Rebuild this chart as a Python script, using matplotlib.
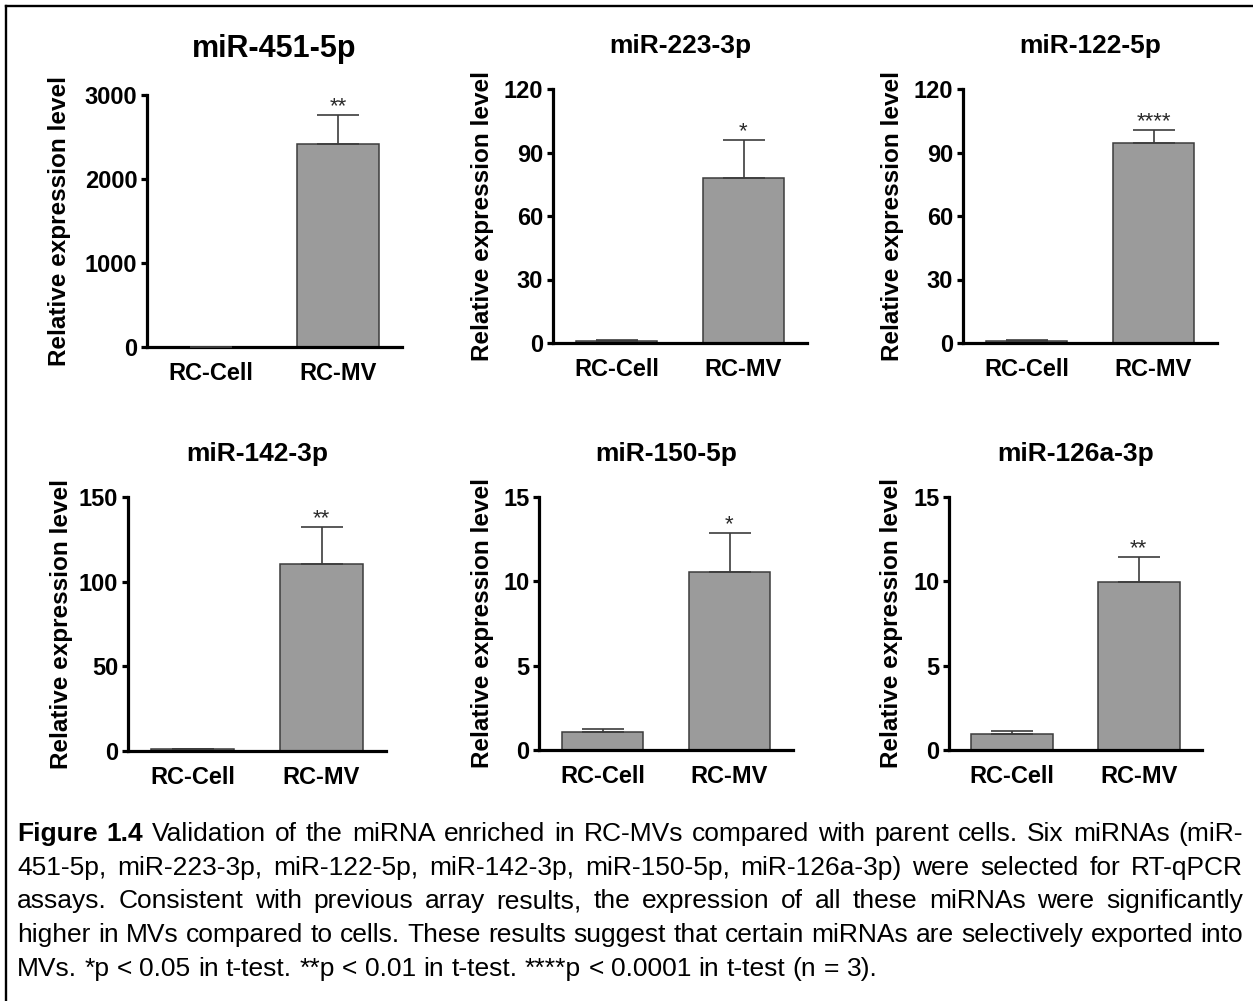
import matplotlib
matplotlib.use("Agg")
import matplotlib.pyplot as plt
from matplotlib.lines import Line2D

plt.rcParams['font.family'] = ['Liberation Sans', 'DejaVu Sans']

# ---------------- data ----------------
titles = ['miR-451-5p', 'miR-223-3p', 'miR-122-5p', 'miR-142-3p', 'miR-150-5p', 'miR-126a-3p']
categories = ['RC-Cell', 'RC-MV']
cell_mean = [1.0, 1.0, 1.0, 1.0, 1.07, 0.95]
cell_err = [0.2, 0.2, 0.2, 0.2, 0.18, 0.18]
mv_mean = [2417, 78.0, 94.5, 110.4, 10.55, 9.96]
mv_err = [345, 17.9, 6.1, 21.9, 2.32, 1.48]
stars = ['**', '*', '****', '**', '*', '**']
yticks = [[0, 1000, 2000, 3000], [0, 30, 60, 90, 120], [0, 30, 60, 90, 120],
          [0, 50, 100, 150], [0, 5, 10, 15], [0, 5, 10, 15]]
ylabel = 'Relative expression level'

caption_bold = 'Figure 1.4'
caption_lines = [
    'Validation of the miRNA enriched in RC-MVs compared with parent cells. Six miRNAs (miR-',
    '451-5p, miR-223-3p, miR-122-5p, miR-142-3p, miR-150-5p, miR-126a-3p) were selected for RT-qPCR',
    'assays. Consistent with previous array results, the expression of all these miRNAs were significantly',
    'higher in MVs compared to cells. These results suggest that certain miRNAs are selectively exported into',
    'MVs. *p < 0.05 in t-test. **p < 0.01 in t-test. ****p < 0.0001 in t-test (n = 3).',
]

# ---------------- layout (pixels) ----------------
W, H = 1253, 1001
fig = plt.figure(figsize=(W / 100, H / 100), dpi=100)
fig.patch.set_facecolor('white')

# (x_left, x_right, y_top, y_zero) in pixels
boxes = [(147, 402, 95, 347), (553, 807, 89, 343), (963, 1217, 89, 343),
         (128, 386, 497, 751), (539, 793, 497, 750), (949, 1202, 497, 750)]
title_base = [57, 53, 53, 461, 461, 461]
title_size = [22, 19, 19, 19, 19, 19]
ylabel_x = [60, 482, 892, 62, 482, 892]

bar_color = '#9b9b9b'
edge_color = '#3c3c3c'

for i in range(6):
    x0, x1, yt, yz = boxes[i]
    ax = fig.add_axes([x0 / W, 1 - yz / H, (x1 - x0) / W, (yz - yt) / H])
    ax.set_facecolor('none')
    xs = [0, 1]
    means = [cell_mean[i], mv_mean[i]]
    errs = [cell_err[i], mv_err[i]]
    ax.bar(xs, means, width=0.645, color=bar_color, edgecolor=edge_color,
           linewidth=1.1, zorder=2)
    ax.errorbar(xs, means, yerr=[[0, 0], errs], fmt='none', ecolor=edge_color,
                elinewidth=1.2, capsize=14.8, capthick=1.2, zorder=3)
    ax.annotate(stars[i], xy=(1, means[1] + errs[1]), xytext=(0, 2),
                textcoords='offset points', ha='center', va='baseline',
                fontsize=16, color='#2a2a2a', zorder=4)
    ax.set_xlim(-0.5, 1.5)
    ax.set_ylim(0, yticks[i][-1])
    ax.set_yticks(yticks[i])
    ax.set_xticks(xs)
    ax.set_xticklabels(categories)
    for s in ['top', 'right']:
        ax.spines[s].set_visible(False)
    for s in ['left', 'bottom']:
        ax.spines[s].set_linewidth(2.3)
        ax.spines[s].set_color('black')
    ax.tick_params(axis='y', direction='out', length=4, width=2.3, pad=3,
                   labelsize=17)
    ax.tick_params(axis='x', length=0, pad=11, labelsize=17)
    for lab in ax.get_xticklabels() + ax.get_yticklabels():
        lab.set_fontweight('bold')
    ax.set_ylabel(ylabel, fontsize=17.5, fontweight='bold')
    ax.yaxis.label.set_va('center')
    lx = (ylabel_x[i] - x0) / (x1 - x0)
    ax.yaxis.set_label_coords(lx, 0.5)
    fig.text((x0 + x1) / 2 / W, 1 - title_base[i] / H, titles[i], ha='center',
             va='baseline', fontsize=title_size[i], fontweight='bold')

# ---------------- border ----------------
fig.add_artist(Line2D([6 / W, 1.0], [1 - 6 / H, 1 - 6 / H], color='black',
                      lw=1.7, transform=fig.transFigure))
fig.add_artist(Line2D([6 / W, 6 / W], [1 - 6 / H, 0.0], color='black',
                      lw=1.7, transform=fig.transFigure))

# ---------------- caption (justified) ----------------
cap_size = 19
left_px, right_px = 17, 1243
baselines = [841, 875, 908, 942, 976]
renderer = fig.canvas.get_renderer()

t1 = fig.text(0, 0, 'a a', fontsize=cap_size)
t2 = fig.text(0, 0, 'aa', fontsize=cap_size)
space_w = t1.get_window_extent(renderer=renderer).width - t2.get_window_extent(renderer=renderer).width
t1.remove()
t2.remove()

for li, line in enumerate(caption_lines):
    words = line.split(' ')
    items = []
    if li == 0:
        items += [(w, 'bold') for w in caption_bold.split(' ')]
    items += [(w, 'normal') for w in words]
    ypos = 1 - baselines[li] / H
    texts = []
    widths = []
    for w, wt in items:
        t = fig.text(0, ypos, w, fontsize=cap_size, fontweight=wt, ha='left',
                     va='baseline', color='black')
        texts.append(t)
        widths.append(t.get_window_extent(renderer=renderer).width)
    if li < len(caption_lines) - 1:
        gap = (right_px - left_px - sum(widths)) / (len(items) - 1)
    else:
        gap = space_w
    x = left_px
    for t, wdt in zip(texts, widths):
        t.set_x(x / W)
        x += wdt + gap

fig.savefig('out.png', dpi=100, facecolor='white')
